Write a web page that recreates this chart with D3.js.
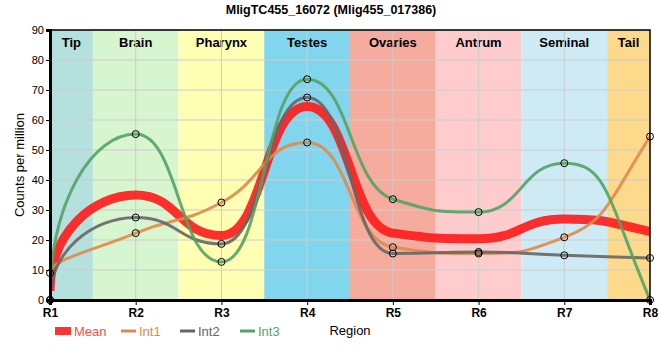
<!DOCTYPE html>
<html>
<head>
<meta charset="utf-8">
<script src="https://cdn.jsdelivr.net/npm/d3@7"></script>
<style>
  body { margin: 0; background: #fff; }
  svg { font-family: "Liberation Sans", Arial, sans-serif; }
  .grid line { stroke: #cccccc; stroke-width: 1; }
</style>
</head>
<body>
<div id="chart"></div>
<script>
(function (d3) {
    'use strict';

    // Data
    var regions = ['R1', 'R2', 'R3', 'R4', 'R5', 'R6', 'R7', 'R8'];
    var bandNames = ['Tip', 'Brain', 'Pharynx', 'Testes', 'Ovaries', 'Antrum', 'Seminal', 'Tail'];
    var bandColors = ['#b4e1dd', '#d7f6cf', '#ffffb4', '#81d5ec', '#f5ac9f', '#fecccd', '#cdeaf5', '#fdd98b'];
    var meanValues = [3, 35, 21.5, 64.5, 22.3, 20.4, 27, 22.8];
    var int1Values = [9, 22.3, 32.5, 52.5, 17.6, 15.5, 20.9, 54.5];
    var int2Values = [0, 27.5, 18.7, 67.5, 15.5, 16, 14.9, 14];
    var int3Values = [0, 55.3, 12.7, 73.6, 33.6, 29.3, 45.6, 0];
    var yTicks = [0, 10, 20, 30, 40, 50, 60, 70, 80, 90];

    var series = [
        {name: 'Int1', values: int1Values, color: '#e0894a', width: 3},
        {name: 'Int2', values: int2Values, color: '#666666', width: 3},
        {name: 'Int3', values: int3Values, color: '#55a266', width: 3}
    ];

    var W = 660, H = 360;
    var margin = {top: 30, right: 10, bottom: 60, left: 50};
    var width = W - margin.left - margin.right;
    var height = H - margin.top - margin.bottom;

    var x = d3.scalePoint().domain(regions).range([0, width]);
    var y = d3.scaleLinear().domain([0, 90]).range([height, 0]);
    var step = x.step();

    // Smooth curve: flat at extremes, sharp S between regions
    function RegionCurve(context) { this._context = context; }
    RegionCurve.prototype = {
        areaStart: function () {},
        areaEnd: function () {},
        lineStart: function () { this._xs = []; this._ys = []; },
        point: function (px, py) { this._xs.push(+px); this._ys.push(+py); },
        lineEnd: function () {
            var xs = this._xs, ys = this._ys, n = xs.length, c = this._context;
            if (!n) return;
            c.moveTo(xs[0], ys[0]);
            if (n < 3) { if (n === 2) c.lineTo(xs[1], ys[1]); return; }

            var s = [], t = [], i;
            for (i = 0; i < n - 1; i++) s.push((ys[i + 1] - ys[i]) / (xs[i + 1] - xs[i]));
            t[0] = s[0];
            for (i = 1; i < n - 1; i++) {
                var h0 = xs[i] - xs[i - 1], h1 = xs[i + 1] - xs[i];
                var p = (s[i - 1] * h1 + s[i] * h0) / (h0 + h1);
                t[i] = (Math.sign(s[i - 1]) + Math.sign(s[i])) *
                    Math.min(Math.abs(s[i - 1]), Math.abs(s[i]), 0.5 * Math.abs(p)) || 0;
            }
            t[n - 1] = (3 * s[n - 2] - t[n - 2]) / 2;

            function clamp(v, a, b) { return Math.max(Math.min(a, b), Math.min(Math.max(a, b), v)); }

            for (i = 0; i < n - 1; i++) {
                var x0 = xs[i], y0 = ys[i], x1 = xs[i + 1], y1 = ys[i + 1];
                var h = x1 - x0;
                var c2x = x1 - h / 2, c2y = clamp(y1 - t[i + 1] * h / 2, y0, y1);
                var c1x, c1y;
                if (i === 0) {
                    c1x = x0;
                    c1y = y0 + 0.6 * (c2y - y0);
                } else {
                    c1x = x0 + h / 2;
                    c1y = clamp(y0 + t[i] * h / 2, y0, y1);
                }
                c.bezierCurveTo(c1x, c1y, c2x, c2y, x1, y1);
            }
        }
    };
    function curveRegion(context) { return new RegionCurve(context); }

    var svg = d3.select('#chart').append('svg')
        .attr('width', W)
        .attr('height', H);

    svg.append('text')
        .attr('x', W / 2 + 1)
        .attr('y', 14)
        .attr('text-anchor', 'middle')
        .style('font-size', '12.5px')
        .style('font-weight', 'bold')
        .text('MligTC455_16072 (Mlig455_017386)');

    var vis = svg.append('g')
        .attr('transform', 'translate(' + margin.left + ',' + margin.top + ')');

    // Region bands
    bandNames.forEach(function (name, i) {
        var x0 = Math.max(0, x(regions[i]) - step / 2);
        var x1 = Math.min(width, x(regions[i]) + step / 2);
        vis.append('rect')
            .attr('x', x0)
            .attr('y', 0)
            .attr('width', x1 - x0)
            .attr('height', height)
            .attr('fill', bandColors[i]);
        vis.append('text')
            .attr('x', (x0 + x1) / 2)
            .attr('y', 17)
            .attr('text-anchor', 'middle')
            .style('font-size', '13px')
            .style('font-weight', 'bold')
            .text(name);
    });

    // Grid
    var grid = vis.append('g').attr('class', 'grid');
    grid.selectAll('.h').data(yTicks.slice(1)).enter().append('line')
        .attr('x1', 0).attr('x2', width)
        .attr('y1', function (d) { return y(d); })
        .attr('y2', function (d) { return y(d); });
    grid.selectAll('.v').data(regions.slice(1, -1)).enter().append('line')
        .attr('y1', 0).attr('y2', height)
        .attr('x1', function (d) { return x(d); })
        .attr('x2', function (d) { return x(d); });

    vis.append('clipPath').attr('id', 'clip')
        .append('rect').attr('x', 0).attr('y', 0).attr('width', width).attr('height', height);

    var line = d3.line()
        .x(function (d, i) { return x(regions[i]); })
        .y(function (d) { return y(d); })
        .curve(curveRegion);

    var lines = vis.append('g').attr('clip-path', 'url(#clip)');

    lines.append('path')
        .datum(meanValues)
        .attr('fill', 'none')
        .attr('stroke', '#ff1a1a')
        .attr('stroke-opacity', 0.9)
        .attr('stroke-width', 9)
        .attr('d', line);

    series.forEach(function (s) {
        lines.append('path')
            .datum(s.values)
            .attr('fill', 'none')
            .attr('stroke', s.color)
            .attr('stroke-opacity', 0.9)
            .attr('stroke-width', s.width)
            .attr('d', line);
    });

    series.forEach(function (s) {
        vis.selectAll(null).data(s.values).enter().append('circle')
            .attr('cx', function (d, i) { return x(regions[i]); })
            .attr('cy', function (d) { return y(d); })
            .attr('r', 3.5)
            .attr('fill', 'none')
            .attr('stroke', '#000')
            .attr('stroke-width', 1);
    });

    // Frame
    vis.append('rect')
        .attr('x', 0).attr('y', 0)
        .attr('width', width).attr('height', height)
        .attr('fill', 'none')
        .attr('stroke', '#000')
        .attr('stroke-width', 1.5);

    // Axes
    var xAxis = vis.append('g')
        .attr('transform', 'translate(0,' + height + ')')
        .call(d3.axisBottom(x).tickSize(5).tickPadding(3));
    xAxis.select('.domain').attr('stroke-width', 3);
    xAxis.selectAll('text')
        .style('font-size', '12px')
        .style('font-weight', 'bold')
        .style('font-family', '"Liberation Sans", Arial, sans-serif')
        .attr('fill', '#000');

    var yAxis = vis.append('g')
        .call(d3.axisLeft(y).tickValues(yTicks).tickSize(4).tickPadding(2));
    yAxis.select('.domain').attr('stroke-width', 3);
    yAxis.selectAll('text')
        .style('font-size', '11px')
        .style('font-family', '"Liberation Sans", Arial, sans-serif')
        .attr('fill', '#000');

    svg.append('text')
        .attr('transform', 'translate(24,' + (margin.top + height / 2) + ') rotate(-90)')
        .attr('text-anchor', 'middle')
        .style('font-size', '13px')
        .text('Counts per million');

    svg.append('text')
        .attr('x', margin.left + width / 2)
        .attr('y', 335)
        .attr('text-anchor', 'middle')
        .style('font-size', '13px')
        .text('Region');

    // Legend
    var legend = svg.append('g').attr('transform', 'translate(0,331)');
    legend.append('rect')
        .attr('x', 55).attr('y', -4).attr('width', 16).attr('height', 8)
        .attr('fill', '#ff3333');
    legend.append('text')
        .attr('x', 74).attr('y', 5)
        .style('font-size', '13px')
        .attr('fill', '#ff4d4d')
        .text('Mean');
    var lx = [121, 180, 240];
    series.forEach(function (s, i) {
        legend.append('line')
            .attr('x1', lx[i]).attr('x2', lx[i] + 15)
            .attr('y1', 0).attr('y2', 0)
            .attr('stroke', s.color)
            .attr('stroke-width', 3);
        legend.append('text')
            .attr('x', lx[i] + 18).attr('y', 5)
            .style('font-size', '13px')
            .attr('fill', s.color)
            .text(s.name);
    });

})(d3);
</script>
</body>
</html>
